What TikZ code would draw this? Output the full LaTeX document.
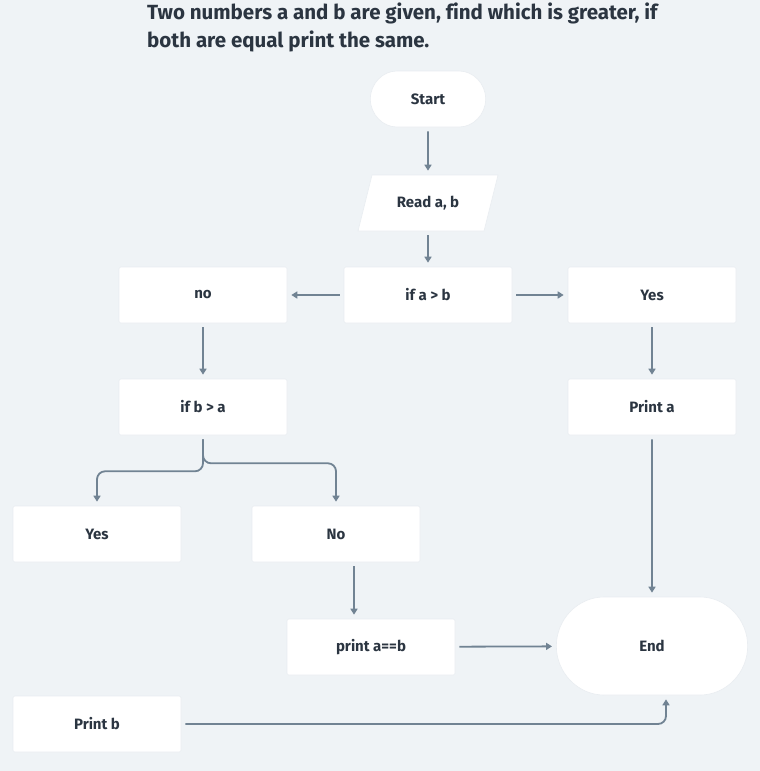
\documentclass[tikz,border=0pt]{standalone}
\usepackage{fontspec}
\setmainfont[Ligatures=NoCommon]{Fira Sans}
\usetikzlibrary{shapes.misc,arrows.meta}
\definecolor{bgcol}{HTML}{EFF3F6}
\definecolor{txtcol}{HTML}{2B3541}
\definecolor{linecol}{HTML}{718393}
\definecolor{edgecol}{HTML}{E9EDF1}
\begin{document}
\begin{tikzpicture}[x=1pt,y=-1pt,
	box/.style={rectangle, rounded corners=1.5pt, fill=white, draw=edgecol, line width=0.6pt,
		minimum width=168pt, minimum height=56pt, text=txtcol,
		font=\fontsize{15}{17}\selectfont\bfseries},
	term/.style={box, rounded rectangle, minimum width=122pt},
	io/.style={box, fill=none, draw=none, minimum width=140pt},
	arrow/.style={draw=linecol, line width=1.8pt, -{Triangle[length=6pt,width=7pt]},
		shorten <=4pt, shorten >=4pt}]

	% page
	\fill[bgcol] (0,0) rectangle (760,771);
	\useasboundingbox (0,0) rectangle (760,771);

	% title
	\node[anchor=north west, align=left, text=txtcol, inner sep=0pt,
		font=\fontsize{20.5}{28}\selectfont\bfseries] (title) at (147,3)
		{Two numbers a and b are given, find which is greater, if\\
		 both are equal print the same.};

	% input parallelogram
	\filldraw[fill=white, draw=edgecol, line width=0.6pt]
	(372,175) -- (498,175) -- (484,231) -- (358,231) -- cycle;

	% nodes
	\node[term] (start) at (428,99) {Start};
	\node[io] (read) at (428,203) {Read a, b};
	\node[box] (ifab) at (428,295) {if a > b};
	\node[box] (no) at (203,295) {no};
	\node[box] (yes) at (652,295) {Yes};
	\node[box] (ifba) at (203,407) {if b > a};
	\node[box] (printa) at (652,407) {Print a};
	\node[box] (yesb) at (97,534) {Yes};
	\node[box] (nob) at (336,534) {No};
	\node[box] (same) at (371,647) {print a==b};
	\node[term, minimum width=198pt, minimum height=98pt] (end) at (652,646) {End};
	\node[box] (printb) at (97,724) {Print b};

	% connectors
	\draw[arrow] (start) -- (read);
	\draw[arrow] (read) -- (ifab);
	\draw[arrow] (ifab) -- (no);
	\draw[arrow] (ifab) -- (yes);
	\draw[arrow] (no) -- (ifba);
	\draw[arrow] (yes) -- (printa);
	\draw[arrow, rounded corners=8pt] (ifba.south) -- ([yshift=-36pt]ifba.south) -| (yesb.north);
	\draw[arrow, rounded corners=8pt] (ifba.south) -- ([yshift=-28pt]ifba.south) -| (nob.north);
	\draw[arrow] ([xshift=18pt]nob.south) -- ([xshift=18pt]nob.south |- same.north);
	\draw[arrow] (printa) -- (end);
	\draw[arrow] (same) -- (end);
	\draw[arrow, rounded corners=8pt] (printb.east) -| ([xshift=14pt]end.south);

\end{tikzpicture}
\end{document}
